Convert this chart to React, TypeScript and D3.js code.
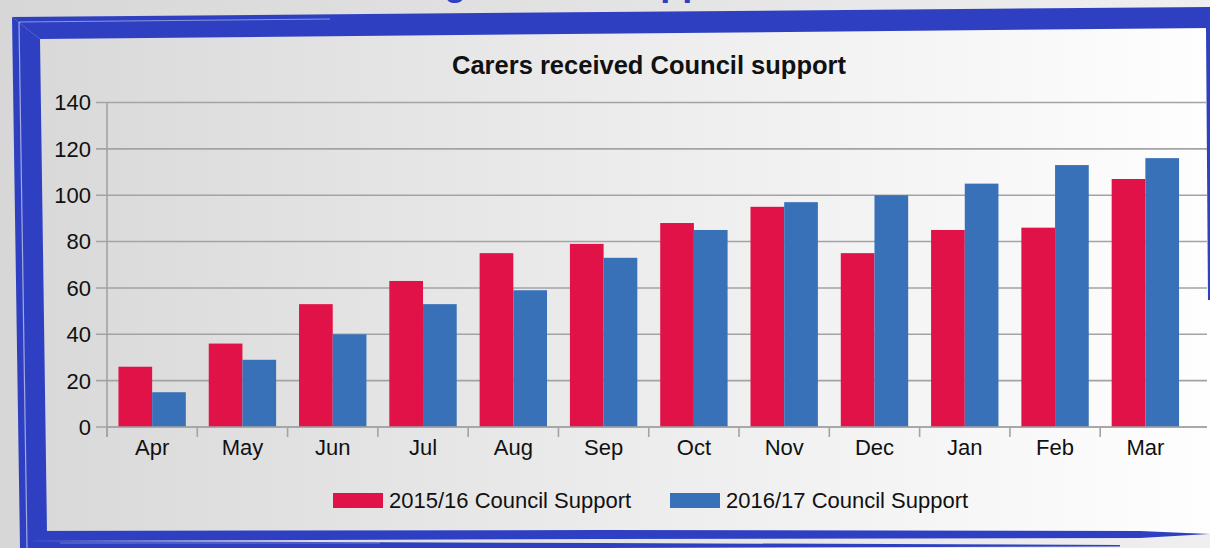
import React from "react";
import * as d3 from "d3";

const months = ["Apr", "May", "Jun", "Jul", "Aug", "Sep", "Oct", "Nov", "Dec", "Jan", "Feb", "Mar"];
const support1516 = [26, 36, 53, 63, 75, 79, 88, 95, 75, 85, 86, 107];
const support1617 = [15, 29, 40, 53, 59, 73, 85, 97, 100, 105, 113, 116];
const seriesNames = ["2015/16 Council Support", "2016/17 Council Support"];
const seriesColors = ["#e11248", "#3871b8"];
const yTicks = [0, 20, 40, 60, 80, 100, 120, 140];

const W = 1210;
const H = 548;
const FONT = "'Liberation Sans', Arial, Helvetica, sans-serif";
const BLUE = "#2e40c1";

export default function App() {
  const x = d3.scaleBand<string>().domain(months).range([107, 1190.5]).padding(0);
  const x1 = d3.scaleBand<string>().domain(seriesNames).range([0, x.bandwidth()]).paddingInner(0).paddingOuter(0.34);
  const y = d3.scaleLinear().domain([0, 140]).range([427, 102.5]);
  const series = [support1516, support1617];

  return (
    <svg width={W} height={H} style={{ position: "absolute", left: 0, top: 0 }} xmlns="http://www.w3.org/2000/svg">
      <defs>
        <linearGradient id="bg" x1="0" x2="1" y1="0" y2="0">
          <stop offset="0" stopColor="#d7d7d7" />
          <stop offset="1" stopColor="#efefef" />
        </linearGradient>
        <linearGradient id="panel" x1="0" x2="1" y1="0" y2="0">
          <stop offset="0" stopColor="#d9d9d9" />
          <stop offset="0.5" stopColor="#ececec" />
          <stop offset="1" stopColor="#fefefe" />
        </linearGradient>
      </defs>
      <rect x={0} y={0} width={W} height={H} fill="url(#bg)" />
      {/* partially visible slide heading (only descenders show, as in the original) */}
      <text x={184} y={-5} fontFamily={FONT} fontWeight="bold" fontSize={36} fill={BLUE}>
        Carers receiving Council support
      </text>
      {/* panel */}
      <polygon points="40,39 1210,28 1210,533 47,533" fill="url(#panel)" />
      {/* frame */}
      <polygon points="12,17 1210,7 1210,28 40,39" fill={BLUE} />
      <polygon points="12,17 40,39 47,533 20,548" fill={BLUE} />
      <polygon points="1206,28 1210,28 1210,300 1208,300" fill={BLUE} />
      <polygon points="20,531 600,530 1140,531 1209,534 1140,538 600,539 20,541" fill={BLUE} />
      <polygon points="20,541 600,543 1120,545 1120,546.5 600,548 20,548" fill={BLUE} />
      <line x1={19} y1={22} x2={27} y2={548} stroke="#ffffff" strokeOpacity={0.55} strokeWidth={1.2} />
      <line x1={19} y1={22} x2={330} y2={19} stroke="#ffffff" strokeOpacity={0.45} strokeWidth={1} />
      <line x1={60} y1={543} x2={380} y2={543} stroke="#ffffff" strokeOpacity={0.3} strokeWidth={1} />

      {/* title */}
      <text x={649} y={74} textAnchor="middle" fontFamily={FONT} fontWeight="bold" fontSize={25.5} fill="#111">
        Carers received Council support
      </text>

      {/* gridlines and y axis */}
      {yTicks.map((t) => (
        <g key={t}>
          <line x1={96} x2={1207} y1={y(t)} y2={y(t)} stroke="#a3a3a3" strokeWidth={1.6} />
          <text x={91} y={y(t)} dy="0.36em" textAnchor="end" fontFamily={FONT} fontSize={22} fill="#111">
            {t}
          </text>
        </g>
      ))}
      <line x1={107} x2={107} y1={y(140)} y2={437} stroke="#a3a3a3" strokeWidth={1.6} />

      {/* bars */}
      {months.map((m, i) => (
        <g key={m} transform={`translate(${x(m)},0)`}>
          {series.map((s, j) => (
            <rect
              key={j}
              x={x1(seriesNames[j])}
              y={y(s[i])}
              width={x1.bandwidth()}
              height={y(0) - y(s[i])}
              fill={seriesColors[j]}
            />
          ))}
        </g>
      ))}

      {/* x axis */}
      <line x1={107} x2={1207} y1={y(0)} y2={y(0)} stroke="#a3a3a3" strokeWidth={1.6} />
      {months.map((m) => (
        <g key={m}>
          <line x1={x(m)} x2={x(m)} y1={y(0)} y2={437} stroke="#a3a3a3" strokeWidth={1.6} />
          <text x={(x(m) as number) + x.bandwidth() / 2} y={455} textAnchor="middle" fontFamily={FONT} fontSize={22} fill="#111">
            {m}
          </text>
        </g>
      ))}

      {/* legend */}
      {seriesNames.map((n, j) => {
        const lx = j === 0 ? 333 : 670;
        return (
          <g key={n}>
            <rect x={lx} y={493} width={50} height={15} fill={seriesColors[j]} />
            <text x={lx + 56} y={508} fontFamily={FONT} fontSize={22} fill="#111">
              {n}
            </text>
          </g>
        );
      })}
    </svg>
  );
}
